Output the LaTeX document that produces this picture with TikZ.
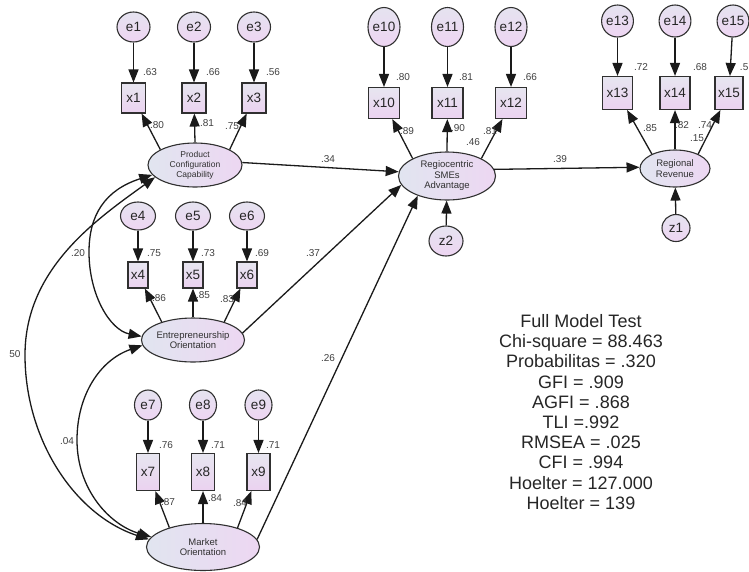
\documentclass[tikz,border=0pt]{standalone}
\usepackage{fontspec}
\setmainfont{Liberation Sans}
\usetikzlibrary{shapes.geometric,arrows.meta}
\definecolor{latL}{HTML}{E1E5F0}
\definecolor{latR}{HTML}{EDD7F2}
\definecolor{boxT}{HTML}{E7E6F0}
\definecolor{boxB}{HTML}{EBD2F0}
\definecolor{errT}{HTML}{E5E3F0}
\definecolor{errB}{HTML}{EED5F2}
\definecolor{edgecol}{HTML}{1A1A1A}
\definecolor{rimcol}{HTML}{303030}
\definecolor{lblcol}{HTML}{404040}
\begin{document}
\begin{tikzpicture}[x=1pt,y=-1pt,
  latent/.style={ellipse,draw=rimcol,line width=1.1pt,left color=latL,right color=latR,
    inner sep=0pt,align=center,text=rimcol,font=\fontsize{9.5}{10.5}\selectfont},
  errnode/.style={ellipse,draw=rimcol,line width=1.1pt,top color=errT,bottom color=errB,
    inner sep=0pt,text=black!85,font=\fontsize{13.5}{14}\selectfont},
  obs/.style={rectangle,draw=rimcol,line width=1.1pt,top color=boxT,bottom color=boxB,
    inner sep=0pt,text=black!85,font=\fontsize{13.5}{14}\selectfont},
  tip/.tip={Triangle[length=13pt,width=10pt]},
  pathline/.style={-tip,line width=1.3pt,draw=edgecol},
  covline/.style={tip-tip,line width=1.3pt,draw=edgecol},
  est/.style={inner sep=0pt,text=lblcol,font=\fontsize{10}{11}\selectfont},
  fit/.style={inner sep=0pt,align=center,text=black!85,font=\fontsize{18}{20.2}\selectfont}
]
\path[use as bounding box,fill=white] (0,0) rectangle (749,571);

% ---------- latent constructs ----------
\node[latent,minimum width=94pt,minimum height=44pt,font=\fontsize{8.5}{10}\selectfont]
  (PCC) at (195,165) {Product\\Configuration\\Capability};
\node[latent,minimum width=102pt,minimum height=44pt] (EO) at (193,340) {Entrepreneurship\\Orientation};
\node[latent,minimum width=113pt,minimum height=47pt] (MO) at (203,547) {Market\\Orientation};
\node[latent,minimum width=97pt,minimum height=48pt] (RSA) at (447,176) {Regiocentric\\SMEs\\Advantage};
\node[latent,minimum width=70pt,minimum height=37pt] (RR) at (675,168.5) {Regional\\Revenue};

% ---------- indicators ----------
\foreach \n/\x in {1/133.5,2/194,3/254}{
  \node[obs,minimum width=24pt,minimum height=30pt] (x\n) at (\x,98) {x\n};
  \node[errnode,minimum width=33pt,minimum height=30pt] (e\n) at (\x,27) {e\n};
}
\foreach \n/\x in {4/138,5/193,6/247}{
  \node[obs,minimum width=20pt,minimum height=26pt] (x\n) at (\x,275) {x\n};
  \node[errnode,minimum width=35pt,minimum height=28pt] (e\n) at (\x,216) {e\n};
}
\foreach \n/\x in {7/148,8/203,9/258.5}{
  \node[obs,minimum width=23pt,minimum height=37pt] (x\n) at (\x,472) {x\n};
  \node[errnode,minimum width=27pt,minimum height=30pt] (e\n) at (\x,405) {e\n};
}
\foreach \n/\x in {10/384,11/447.5,12/511}{
  \node[obs,minimum width=31pt,minimum height=31pt] (x\n) at (\x,103) {x\n};
  \node[errnode,minimum width=32pt,minimum height=39pt] (e\n) at (\x,27) {e\n};
}
\foreach \n/\x in {13/617.5,14/675}{
  \node[obs,minimum width=30pt,minimum height=33pt] (x\n) at (\x,93) {x\n};
  \node[errnode,minimum width=30pt,minimum height=32pt] (e\n) at (\x,21) {e\n};
}
\node[obs,minimum width=28pt,minimum height=33pt] (x15) at (729,93) {x15};
\node[errnode,minimum width=30pt,minimum height=32pt] (e15) at (733,21) {e15};

% ---------- disturbances ----------
\node[errnode,minimum width=34pt,minimum height=30pt] (z2) at (446,241) {z2};
\node[errnode,minimum width=28pt,minimum height=27pt] (z1) at (676,228) {z1};

% ---------- measurement error paths ----------
\foreach \n in {1,...,15}{ \draw[pathline] (e\n) -- (x\n); }

% ---------- loadings ----------
\draw[pathline] (PCC.156) -- (x1);
\draw[pathline] (PCC.90) -- (x2);
\draw[pathline] (PCC.24) -- (x3);
\draw[pathline] (EO.150) -- (x4);
\draw[pathline] (EO.90) -- (x5);
\draw[pathline] (EO.30) -- (x6);
\draw[pathline] (MO.150) -- (x7);
\draw[pathline] (MO.90) -- (x8);
\draw[pathline] (MO.29) -- (x9);
\draw[pathline] (RSA.153) -- (x10);
\draw[pathline] (RSA.90) -- (x11);
\draw[pathline] (RSA.27) -- (x12);
\draw[pathline] (RR.148) -- (x13);
\draw[pathline] (RR.90) -- (x14);
\draw[pathline] (RR.32) -- (x15);

% ---------- structural paths ----------
\draw[pathline] (PCC.3) -- (RSA.175);
\draw[pathline] (EO.8) -- (RSA.191);
\draw[pathline] (MO.8) -- (RSA.214);
\draw[pathline] (RSA.8) -- (RR.178);
\draw[pathline] (z2) -- (RSA);
\draw[pathline] (z1) -- (RR);

% ---------- covariances ----------
\draw[covline] (PCC.193) .. controls (105,190) and (89,215) .. (89,252)
  .. controls (89,295) and (110,330) .. (EO.176);
\draw[covline] (PCC.197) .. controls (94,221) and (25,270) .. (25,355)
  .. controls (25,440) and (75,515) .. (MO.172);
\draw[covline] (EO.186) .. controls (100,360) and (77,395) .. (77,440)
  .. controls (77,490) and (110,525) .. (MO.169);

% ---------- estimates ----------
\node[est] (r1) at (150,72) {.63};
\node[est] (r2) at (213,72) {.66};
\node[est] (r3) at (273,72) {.56};
\node[est] (l1) at (157,125) {.80};
\node[est] (l2) at (207,123) {.81};
\node[est] (l3) at (232,126) {.75};
\node[est] (r4) at (154,253) {.75};
\node[est] (r5) at (208,253) {.73};
\node[est] (r6) at (262,253) {.69};
\node[est] (l4) at (159,298) {.86};
\node[est] (l5) at (203,295) {.85};
\node[est] (l6) at (227,299) {.83};
\node[est] (r7) at (166,445) {.76};
\node[est] (r8) at (218,445) {.71};
\node[est] (r9) at (273,445) {.71};
\node[est] (l7) at (168,502) {.87};
\node[est] (l8) at (215,498) {.84};
\node[est] (l9) at (240,503) {.84};
\node[est] (r10) at (403,77) {.80};
\node[est] (r11) at (466,77) {.81};
\node[est] (r12) at (530,77) {.66};
\node[est] (l10) at (407,131) {.89};
\node[est] (l11) at (458,128) {.90};
\node[est] (sq1) at (473,142) {.46};
\node[est] (l12) at (490,131) {.81};
\node[est] (r13) at (641,67) {.72};
\node[est] (r14) at (700,67) {.68};
\node[est,anchor=east] (r15) at (748.5,67) {.5};
\node[est] (l13) at (650,128) {.85};
\node[est] (l14) at (682,125) {.82};
\node[est] (l15) at (705,125) {.74};
\node[est] (sq2) at (697,138) {.15};
\node[est] (b1) at (328,159) {.34};
\node[est] (b2) at (313,253) {.37};
\node[est] (b3) at (328,358) {.26};
\node[est] (b4) at (560,159) {.39};
\node[est] (c1) at (78,253) {.20};
\node[est] (c2) at (15,354) {50};
\node[est] (c3) at (67,441) {.04};

% ---------- fit summary ----------
\node[fit] (fitbox) at (581,412) {Full Model Test\\Chi-square = 88.463\\Probabilitas = .320\\GFI = .909\\AGFI = .868\\TLI =.992\\RMSEA = .025\\CFI = .994\\Hoelter = 127.000\\Hoelter = 139};
\end{tikzpicture}
\end{document}
